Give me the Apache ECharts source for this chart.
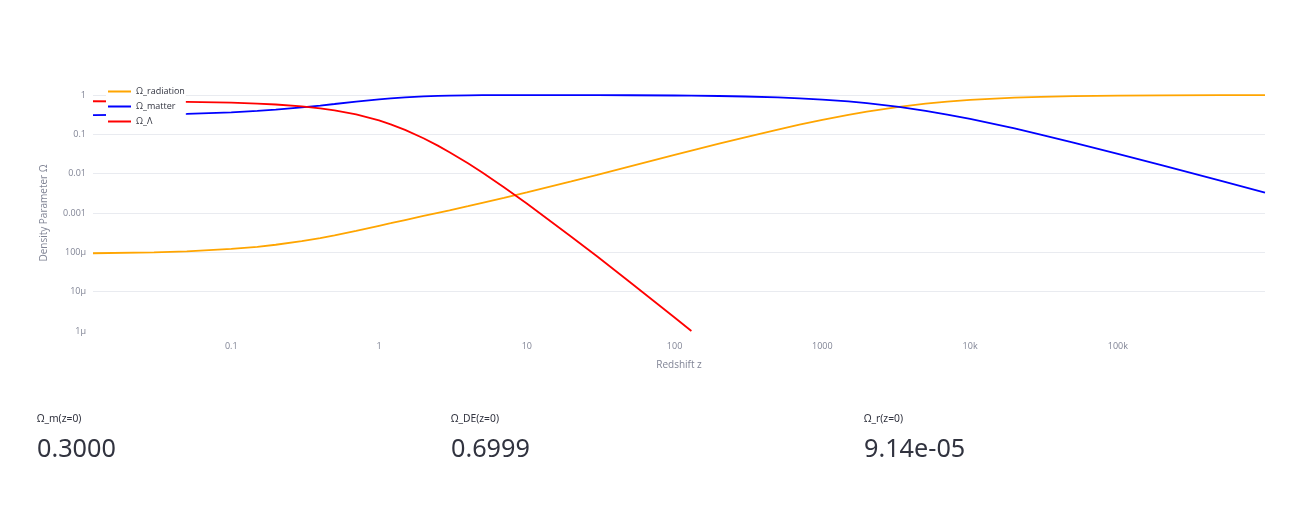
<!DOCTYPE html>
<html>
<head>
<meta charset="utf-8">
<script src="https://cdn.jsdelivr.net/npm/echarts@6/dist/echarts.min.js"></script>
<style>
  html, body { margin: 0; padding: 0; background: #fff; }
  #chart { position: absolute; left: 0; top: 0; width: 1304px; height: 506px; }
  .metric { position: absolute; font-family: "Noto Sans", "Open Sans", sans-serif; color: #31333f; }
  .metric .label { position: absolute; top: 411px; font-size: 10.3px; line-height: 14px; white-space: nowrap; }
  .metric .value { position: absolute; top: 430px; font-size: 26px; line-height: 34px; white-space: nowrap; transform: scaleX(0.97); transform-origin: left center; }
</style>
</head>
<body>
<div id="chart"></div>
<div id="metrics"></div>
<script>
// redshift samples (x axis, log)
const redshift = [0.0116, 0.03, 0.05, 0.1, 0.15, 0.2, 0.3, 0.4, 0.5, 0.7, 1, 1.2, 1.5, 2, 2.5, 3, 4, 5, 7, 10, 20, 30, 50, 100, 130,
  200, 300, 500, 700, 1000, 1500, 2000, 3300, 5000, 7000, 10000, 20000, 30000, 50000, 100000, 200000, 500000, 990000]
// density parameters
const omegaRadiation = [9.47e-5, 1.0e-4, 1.06e-4, 1.22e-4, 1.38e-4, 1.56e-4, 1.92e-4, 2.31e-4, 2.70e-4, 3.51e-4, 4.72e-4, 5.49e-4, 6.62e-4, 8.41e-4, 1.01e-3, 1.17e-3, 1.49e-3, 1.81e-3, 2.42e-3, 3.33e-3, 6.36e-3, 9.36e-3, 0.0153, 0.0299, 0.0384,
  0.0577, 0.084, 0.132, 0.176, 0.234, 0.314, 0.379, 0.501, 0.604, 0.681, 0.753, 0.859, 0.901, 0.938, 0.968, 0.984, 0.9935, 0.9967]
const omegaMatter = [0.307, 0.319, 0.332, 0.363, 0.395, 0.425, 0.485, 0.540, 0.591, 0.678, 0.774, 0.820, 0.870, 0.920, 0.947, 0.964, 0.980, 0.9875, 0.993, 0.995, 0.993, 0.991, 0.985, 0.970, 0.962,
  0.942, 0.916, 0.868, 0.824, 0.766, 0.686, 0.621, 0.499, 0.396, 0.319, 0.247, 0.141, 0.0986, 0.0616, 0.0318, 0.0162, 0.00652, 0.0033]
const omegaLambda = [0.6926, 0.681, 0.668, 0.637, 0.605, 0.574, 0.515, 0.459, 0.409, 0.322, 0.226, 0.180, 0.130, 0.0795, 0.0516, 0.0351, 0.0183, 0.0107, 4.5e-3, 1.74e-3, 2.5e-4, 7.8e-5, 1.73e-5, 2.2e-6, 1.0e-6,
  null, null, null, null, null, null, null, null, null, null, null, null, null, null, null, null, null, null]

// tick labels by power of ten
const xTickLabels = { '-1': '0.1', '0': '1', '1': '10', '2': '100', '3': '1000', '4': '10k', '5': '100k' }
const yTickLabels = { '0': '1', '-1': '0.1', '-2': '0.01', '-3': '0.001', '-4': '100µ', '-5': '10µ', '-6': '1µ' }

// metrics below the chart
const metricLabels = ['Ω_m(z=0)', 'Ω_DE(z=0)', 'Ω_r(z=0)']
const metricValues = ['0.3000', '0.6999', '9.14e-05']
const metricLeft = [37, 451, 864]

const FONT = '"Open Sans", "Noto Sans", sans-serif'
const TICK_COLOR = '#808495'

function powLabel(map) {
  return function (v) {
    const e = Math.log10(v)
    const r = Math.round(e)
    if (Math.abs(e - r) > 1e-6) return ''
    return map[String(r)] || ''
  }
}

function pairs(ys) {
  return redshift.map((z, i) => [z, ys[i]])
}

const chartInstance = echarts.init(document.getElementById('chart'), null, { renderer: 'canvas' })

const option = {
  animation: false,
  textStyle: { fontFamily: FONT },
  grid: { left: 93, right: 39, top: 95, bottom: 175, containLabel: false },
  legend: {
    orient: 'vertical',
    left: 106,
    top: 84,
    padding: [2, 1, 2, 2],
    backgroundColor: '#ffffff',
    icon: 'rect',
    itemWidth: 23,
    itemHeight: 2,
    itemGap: 4,
    textStyle: { fontSize: 9, lineHeight: 11, color: '#31333f', fontFamily: FONT },
    data: ['Ω_radiation', 'Ω_matter', 'Ω_Λ'],
  },
  xAxis: {
    type: 'log',
    logBase: 10,
    min: 0.0116,
    max: 990000,
    name: 'Redshift z',
    nameLocation: 'middle',
    nameGap: 29,
    nameTextStyle: { fontSize: 10, color: TICK_COLOR, fontFamily: FONT },
    axisLine: { show: false },
    axisTick: { show: false },
    splitLine: { show: false },
    axisLabel: {
      margin: 11,
      fontSize: 9,
      color: TICK_COLOR,
      showMinLabel: false,
      showMaxLabel: false,
      formatter: powLabel(xTickLabels),
    },
  },
  yAxis: {
    type: 'log',
    logBase: 10,
    min: 1e-6,
    max: 1,
    name: 'Density Parameter Ω',
    nameLocation: 'middle',
    nameGap: 44,
    nameTextStyle: { fontSize: 10, color: TICK_COLOR, fontFamily: FONT },
    axisLine: { show: false },
    axisTick: { show: false },
    splitLine: { show: true, showMinLine: false, lineStyle: { color: '#e9ebf0', width: 1 } },
    axisLabel: {
      margin: 7,
      fontSize: 9,
      color: TICK_COLOR,
      formatter: powLabel(yTickLabels),
    },
  },
  series: [
    {
      name: 'Ω_radiation',
      type: 'line',
      symbol: 'none',
      lineStyle: { width: 1.8, color: '#ffa500' },
      itemStyle: { color: '#ffa500' },
      data: pairs(omegaRadiation),
    },
    {
      name: 'Ω_matter',
      type: 'line',
      symbol: 'none',
      lineStyle: { width: 1.8, color: '#0000ff' },
      itemStyle: { color: '#0000ff' },
      data: pairs(omegaMatter),
    },
    {
      name: 'Ω_Λ',
      type: 'line',
      symbol: 'none',
      connectNulls: false,
      lineStyle: { width: 1.8, color: '#ff0000' },
      itemStyle: { color: '#ff0000' },
      data: pairs(omegaLambda),
    },
  ],
}

chartInstance.setOption(option)

// metric blocks
const box = document.getElementById('metrics')
metricLabels.forEach((label, i) => {
  const m = document.createElement('div')
  m.className = 'metric'
  m.style.left = metricLeft[i] + 'px'
  m.innerHTML = '<div class="label"></div><div class="value"></div>'
  m.querySelector('.label').textContent = label
  m.querySelector('.value').textContent = metricValues[i]
  box.appendChild(m)
})
</script>
</body>
</html>
